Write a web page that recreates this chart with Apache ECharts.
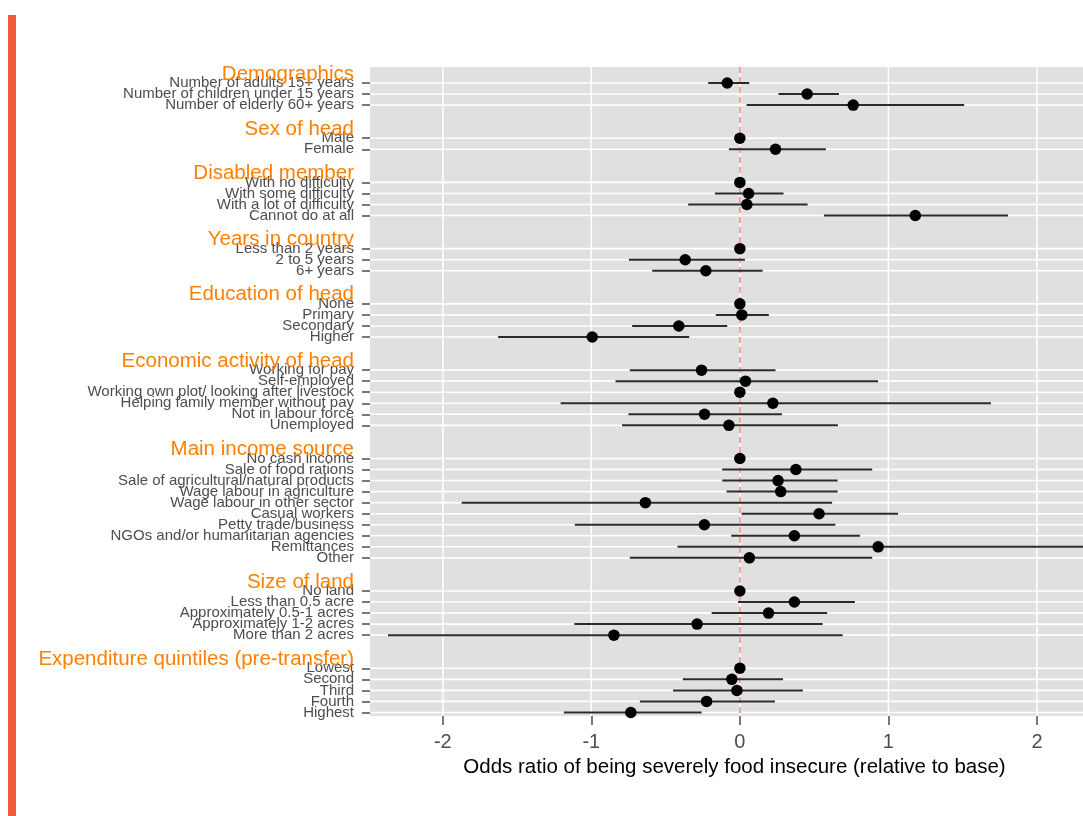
<!DOCTYPE html>
<html>
<head>
<meta charset="utf-8">
<script src="https://cdn.jsdelivr.net/npm/echarts@6/dist/echarts.min.js"></script>
<style>
html,body{margin:0;padding:0;background:#fff;}
#chart{width:1083px;height:816px;}
</style>
</head>
<body>
<div id="chart"></div>
<script>
// ---- data ----
const groupNames = ['Demographics','Sex of head','Disabled member','Years in country','Education of head','Economic activity of head','Main income source','Size of land','Expenditure quintiles (pre-transfer)'];
const groupSizes = [3,2,4,3,4,6,10,5,5];
const itemLabels = [
  'Number of adults 15+ years','Number of children under 15 years','Number of elderly 60+ years',
  'Male','Female',
  'With no difficulty','With some difficulty','With a lot of difficulty','Cannot do at all',
  'Less than 2 years','2 to 5 years','6+ years',
  'None','Primary','Secondary','Higher',
  'Working for pay','Self-employed','Working own plot/ looking after livestock','Helping family member without pay','Not in labour force','Unemployed',
  'No cash income','Sale of food rations','Sale of agricultural/natural products','Wage labour in agriculture','Wage labour in other sector','Casual workers','Petty trade/business','NGOs and/or humanitarian agencies','Remittances','Other',
  'No land','Less than 0.5 acre','Approximately 0.5-1 acres','Approximately 1-2 acres','More than 2 acres',
  'Lowest','Second','Third','Fourth','Highest'
];
const estimates = [
  -0.085, 0.453, 0.763,
  0, 0.24,
  0, 0.059, 0.047, 1.181,
  0, -0.368, -0.229,
  0, 0.013, -0.411, -0.994,
  -0.258, 0.038, 0, 0.222, -0.238, -0.074,
  0, 0.377, 0.257, 0.275, -0.636, 0.533, -0.239, 0.367, 0.931, 0.064,
  0, 0.367, 0.193, -0.288, -0.848,
  0, -0.054, -0.02, -0.224, -0.734
];
const lowerCI = [
  -0.213, 0.26, 0.045,
  null, -0.074,
  null, -0.168, -0.348, 0.566,
  null, -0.747, -0.59,
  null, -0.162, -0.725, -1.627,
  -0.741, -0.837, null, -1.207, -0.75, -0.793,
  null, -0.119, -0.119, -0.089, -1.873, 0.012, -1.111, -0.058, -0.42, -0.741,
  null, -0.012, -0.19, -1.114, -2.369,
  null, -0.384, -0.45, -0.673, -1.185
];
const upperCI = [
  0.063, 0.667, 1.51,
  null, 0.579,
  null, 0.294, 0.456, 1.805,
  null, 0.034, 0.153,
  null, 0.195, -0.085, -0.341,
  0.24, 0.93, null, 1.69, 0.283, 0.66,
  null, 0.891, 0.658, 0.658, 0.621, 1.065, 0.643, 0.808, 2.35, 0.891,
  null, 0.774, 0.588, 0.557, 0.692,
  null, 0.29, 0.424, 0.236, -0.258
];
const xTickValues = [-2, -1, 0, 1, 2];
const xTickLabels = ['-2', '-1', '0', '1', '2'];

// ---- layout of rows (slot positions) ----
const itemSlots = [];
const headerSlots = [];
(function(){
  let s = 0;
  groupSizes.forEach((n, g) => {
    if (g > 0) s += 2;
    headerSlots.push(s - 0.82);
    for (let i = 0; i < n; i++) { itemSlots.push(s); s++; }
  });
})();

const FONT = '"Liberation Sans", Arial, Helvetica, sans-serif';
const GREY = '#4d4d4d';

const chart = echarts.init(document.getElementById('chart'), null, {renderer: 'canvas'});

const ciData = [];
estimates.forEach((e, i) => {
  if (lowerCI[i] !== null) ciData.push([lowerCI[i], upperCI[i], itemSlots[i]]);
});
const dotData = estimates.map((e, i) => [e, itemSlots[i]]);

function leftText(names, slots, size, color, zval) {
  return {
    type: 'custom', z: zval, silent: true,
    data: slots.map((s, i) => [s, i]),
    encode: {y: 0},
    renderItem: (params, api) => {
      const cs = params.coordSys;
      const y = api.coord([0, api.value(0)])[1];
      return {type: 'text', x: cs.x - 16, y: y,
        style: {text: names[api.value(1)], fill: color, fontSize: size, fontFamily: FONT,
          align: 'right', verticalAlign: 'middle'}};
    }
  };
}

chart.setOption({
  animation: false,
  backgroundColor: '#ffffff',
  graphic: [{
    type: 'rect', shape: {x: 8, y: 15, width: 8, height: 801},
    style: {fill: '#ef5b3b'}, silent: true
  }],
  grid: {
    left: 370, right: 0, top: 67, bottom: 100,
    show: true, backgroundColor: '#e0e0e0', borderWidth: 0
  },
  xAxis: {
    type: 'value', min: -2.49, max: 2.31,
    axisLine: {show: false, onZero: false},
    splitLine: {show: false},
    axisTick: {show: true, customValues: xTickValues, length: 9, lineStyle: {color: GREY, width: 1.5}},
    axisLabel: {
      customValues: xTickValues,
      showMinLabel: true, showMaxLabel: true,
      formatter: v => xTickLabels[xTickValues.indexOf(v)],
      color: GREY, fontSize: 20, fontFamily: FONT, margin: 16
    },
    name: 'Odds ratio of being severely food insecure (relative to base)',
    nameLocation: 'middle', nameGap: 41,
    nameTextStyle: {color: '#000', fontSize: 20.5, fontFamily: FONT, padding: [0, 0, 0, 16]}
  },
  yAxis: {
    type: 'value', inverse: true, min: -1.45, max: 57.32,
    axisLine: {show: false, onZero: false},
    splitLine: {show: false},
    axisTick: {show: true, customValues: itemSlots, length: 8, lineStyle: {color: GREY, width: 1.5}},
    axisLabel: {show: false}
  },
  series: [
    {
      type: 'custom', name: 'hgrid', z: 1, silent: true,
      data: itemSlots.map(s => [s]),
      encode: {y: 0},
      renderItem: (params, api) => {
        const cs = params.coordSys;
        const y = api.coord([0, api.value(0)])[1];
        return {type: 'line', shape: {x1: cs.x, y1: y, x2: cs.x + cs.width, y2: y},
          style: {stroke: '#ffffff', lineWidth: 1.6}};
      }
    },
    {
      type: 'custom', name: 'vgrid', z: 1, silent: true,
      data: xTickValues.map(v => [v]),
      encode: {x: 0},
      renderItem: (params, api) => {
        const cs = params.coordSys;
        const x = api.coord([api.value(0), 0])[0];
        return {type: 'line', shape: {x1: x, y1: cs.y, x2: x, y2: cs.y + cs.height},
          style: {stroke: '#ffffff', lineWidth: 1.6}};
      }
    },
    {
      type: 'custom', name: 'zero', z: 2, silent: true,
      data: [[0]],
      encode: {x: 0},
      renderItem: (params, api) => {
        const cs = params.coordSys;
        const x = api.coord([api.value(0), 0])[0];
        return {type: 'line', shape: {x1: x, y1: cs.y, x2: x, y2: cs.y + cs.height},
          style: {stroke: '#f08a80', lineWidth: 1.5, lineDash: [6, 4]}};
      }
    },
    {
      type: 'custom', name: 'ci', z: 3, clip: true,
      data: ciData,
      encode: {x: [0, 1], y: 2},
      renderItem: (params, api) => {
        const a = api.coord([api.value(0), api.value(2)]);
        const b = api.coord([api.value(1), api.value(2)]);
        return {type: 'line', shape: {x1: a[0], y1: a[1], x2: b[0], y2: b[1]},
          style: {stroke: '#2b2b2b', lineWidth: 2}};
      }
    },
    {
      type: 'scatter', name: 'estimate', z: 4,
      data: dotData, symbol: 'circle', symbolSize: 11.5,
      itemStyle: {color: '#000000', opacity: 1}
    },
    leftText(itemLabels, itemSlots, 15, GREY, 5),
    leftText(groupNames, headerSlots, 20.5, '#ff7f00', 6)
  ]
});
</script>
</body>
</html>
